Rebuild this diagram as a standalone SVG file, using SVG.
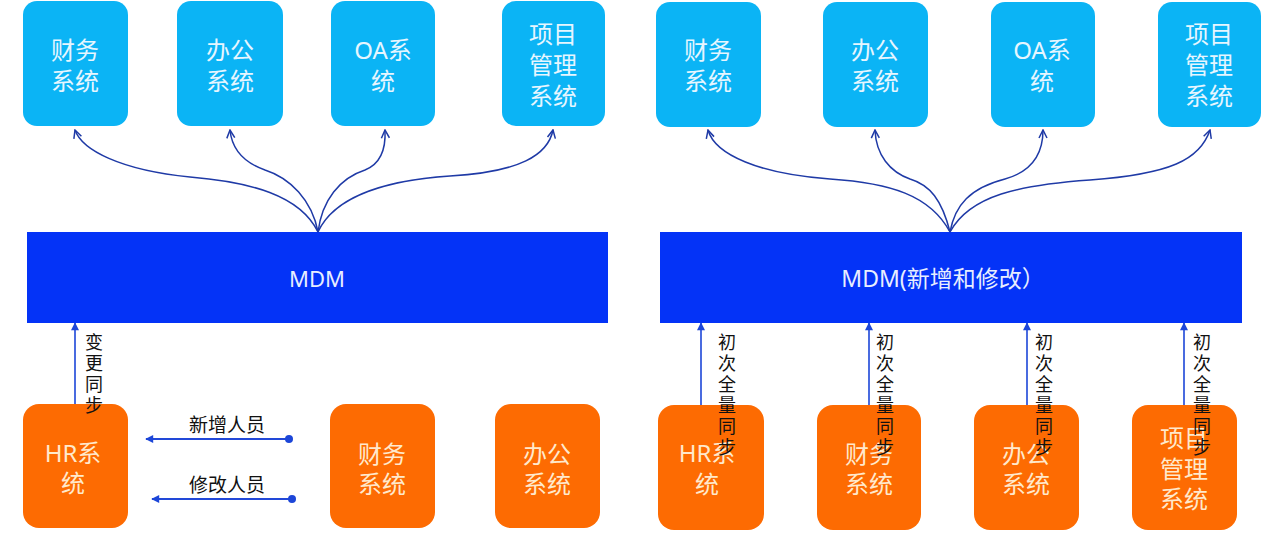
<svg xmlns="http://www.w3.org/2000/svg" width="1280" height="545" viewBox="0 0 1280 545">
<defs>
<style>
text{font-family:"Noto Sans","Noto Sans CJK SC",sans-serif;}
.top rect{fill:#0bb4f5;}
.bot rect{fill:#fd6b02;}
.top text{fill:#e6f6ff;font-size:24px;text-anchor:middle;dominant-baseline:central;}
.bot text{fill:#ffe9cc;font-size:24px;text-anchor:middle;dominant-baseline:central;}
.bar rect{fill:#0433f7;}
.bar text{fill:#e8eeff;font-size:22px;text-anchor:middle;dominant-baseline:central;}
.curve{fill:none;stroke:#1f3aa6;stroke-width:1.5;marker-end:url(#chev);}
.up{fill:none;stroke:#1c46d8;stroke-width:1.6;marker-end:url(#tri);}
.hz{fill:none;stroke:#2248d8;stroke-width:1.8;marker-end:url(#tri);}
.dot{fill:#1c46d8;}
.vl{fill:#111;font-size:18px;font-family:"Noto Sans CJK SC",sans-serif;writing-mode:vertical-rl;letter-spacing:3px;}
.hl{fill:#111;font-size:19px;text-anchor:middle;dominant-baseline:central;font-family:"Noto Sans CJK SC",sans-serif;}
</style>
<marker id="chev" viewBox="0 0 10 10" refX="9" refY="5" markerWidth="10" markerHeight="10" markerUnits="userSpaceOnUse" orient="auto">
<path d="M1,1 L9,5 L1,9" fill="none" stroke="#1f3aa6" stroke-width="1.5"/>
</marker>
<marker id="tri" viewBox="0 0 10 10" refX="9" refY="5" markerWidth="9" markerHeight="8" markerUnits="userSpaceOnUse" orient="auto">
<path d="M0,0 L10,5 L0,10 Z" fill="#1c46d8"/>
</marker>
</defs>
<rect width="1280" height="545" fill="#ffffff"/>

<g id="top-left">
<g id="tl-caiwu" class="top"><rect x="23" y="1" width="105" height="125" rx="14"/><text x="75" y="49">财务</text><text x="75" y="80">系统</text></g>
<g id="tl-bangong" class="top"><rect x="177" y="1" width="106" height="125" rx="14"/><text x="230" y="49">办公</text><text x="230" y="80">系统</text></g>
<g id="tl-oa" class="top"><rect x="331" y="1" width="104" height="125" rx="14"/><text x="383" y="49">OA系</text><text x="383" y="80">统</text></g>
<g id="tl-xiangmu" class="top"><rect x="502" y="1" width="103" height="125" rx="14"/><text x="553" y="33">项目</text><text x="553" y="64">管理</text><text x="553" y="95">系统</text></g>
</g>

<g id="top-right">
<g id="tr-caiwu" class="top"><rect x="656" y="2" width="105" height="125" rx="14"/><text x="708" y="49">财务</text><text x="708" y="80">系统</text></g>
<g id="tr-bangong" class="top"><rect x="823" y="2" width="105" height="125" rx="14"/><text x="875" y="49">办公</text><text x="875" y="80">系统</text></g>
<g id="tr-oa" class="top"><rect x="991" y="2" width="104" height="125" rx="14"/><text x="1042" y="49">OA系</text><text x="1042" y="80">统</text></g>
<g id="tr-xiangmu" class="top"><rect x="1158" y="2" width="103" height="125" rx="14"/><text x="1209" y="33">项目</text><text x="1209" y="64">管理</text><text x="1209" y="95">系统</text></g>
</g>

<g id="mdm-left" class="bar"><rect x="27" y="232" width="581" height="91"/><text x="317" y="278">MDM</text></g>
<g id="mdm-right" class="bar"><rect x="660" y="232" width="582" height="91"/><text x="943" y="278" style="font-size:23px">MDM(新增和修改）</text></g>

<g id="bottom-left">
<g id="bl-hr" class="bot"><rect x="23" y="404" width="105" height="124" rx="16"/><text x="73" y="452">HR系</text><text x="73" y="482">统</text></g>
<g id="bl-caiwu" class="bot"><rect x="330" y="404" width="105" height="124" rx="16"/><text x="382" y="453">财务</text><text x="382" y="483">系统</text></g>
<g id="bl-bangong" class="bot"><rect x="495" y="404" width="105" height="124" rx="16"/><text x="547" y="453">办公</text><text x="547" y="483">系统</text></g>
</g>

<g id="bottom-right">
<g id="br-hr" class="bot"><rect x="658" y="405" width="106" height="125" rx="16"/><text x="707" y="452">HR系</text><text x="707" y="483">统</text></g>
<g id="br-caiwu" class="bot"><rect x="817" y="405" width="104" height="125" rx="16"/><text x="869" y="453">财务</text><text x="869" y="483">系统</text></g>
<g id="br-bangong" class="bot"><rect x="974" y="405" width="105" height="125" rx="16"/><text x="1026" y="453">办公</text><text x="1026" y="483">系统</text></g>
<g id="br-xiangmu" class="bot"><rect x="1132" y="405" width="105" height="125" rx="16"/><text x="1184" y="437">项目</text><text x="1184" y="468">管理</text><text x="1184" y="498">系统</text></g>
</g>

<g id="connectors">
<path class="curve" d="M318,232 C300,195 250,182 190,177 C120,170 82,150 75,130"/>
<path class="curve" d="M318,232 C312,200 290,178 265,170 C245,163 232,150 230,130"/>
<path class="curve" d="M318,232 C322,200 340,178 365,170 C380,164 386,150 385,130"/>
<path class="curve" d="M318,232 C335,195 390,180 450,176 C520,172 548,155 553,130"/>

<path class="curve" d="M950,232 C930,195 890,183 830,179 C760,174 715,155 708,130"/>
<path class="curve" d="M950,232 C942,200 930,185 910,179 C890,172 876,155 875,130"/>
<path class="curve" d="M950,232 C955,205 970,188 1005,179 C1030,172 1043,155 1043,130"/>
<path class="curve" d="M950,232 C970,195 1020,185 1090,180 C1170,174 1200,160 1210,130"/>

<path class="up" d="M75,404 L75,323"/>
<text class="vl" x="94" y="333">变更同步</text>

<path class="hz" d="M289,439 L146,439"/><circle class="dot" cx="289" cy="439" r="4"/>
<text class="hl" x="227" y="423">新增人员</text>
<path class="hz" d="M292,499 L152,499"/><circle class="dot" cx="292" cy="499" r="4"/>
<text class="hl" x="227" y="483">修改人员</text>

<path class="up" d="M701,405 L701,323"/>
<path class="up" d="M869,405 L869,323"/>
<path class="up" d="M1027,405 L1027,323"/>
<path class="up" d="M1184,405 L1184,323"/>
<text class="vl" x="727" y="333">初次全量同步</text>
<text class="vl" x="885" y="333">初次全量同步</text>
<text class="vl" x="1044" y="333">初次全量同步</text>
<text class="vl" x="1202" y="333">初次全量同步</text>
</g>
</svg>
